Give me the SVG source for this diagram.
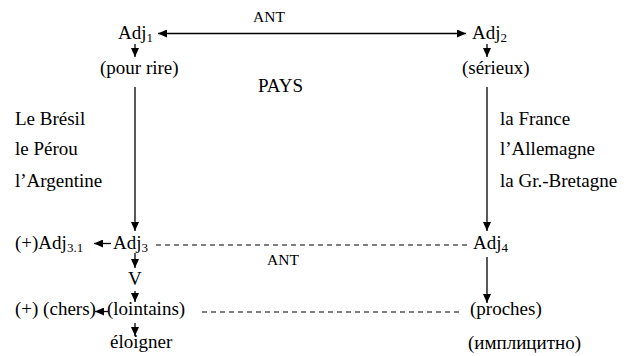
<svg xmlns="http://www.w3.org/2000/svg" width="628" height="356" viewBox="0 0 628 356">
<defs>
<marker id="ah" markerUnits="userSpaceOnUse" markerWidth="9" markerHeight="8" refX="9" refY="4" orient="auto-start-reverse">
<path d="M0,0 L9,4 L0,8 z" fill="#000"/>
</marker>
</defs>
<rect width="628" height="356" fill="#fff"/>
<g id="connectors" stroke="#000" stroke-width="1.3" fill="none">
<line x1="158" y1="33.5" x2="466" y2="33.5" marker-start="url(#ah)" marker-end="url(#ah)"/>
<line x1="135" y1="44" x2="135" y2="57" marker-end="url(#ah)"/>
<line x1="487" y1="44" x2="487" y2="57" marker-end="url(#ah)"/>
<line x1="135" y1="87" x2="135" y2="231" marker-end="url(#ah)"/>
<line x1="487" y1="87" x2="487" y2="231" marker-end="url(#ah)"/>
<line x1="111" y1="243.5" x2="94" y2="243.5" marker-end="url(#ah)"/>
<line x1="156" y1="245" x2="468" y2="245" stroke-width="1.1" stroke-dasharray="5,4"/>
<line x1="135" y1="253" x2="135" y2="268" marker-end="url(#ah)"/>
<line x1="135" y1="291" x2="135" y2="302" marker-end="url(#ah)"/>
<line x1="108" y1="311.5" x2="95" y2="311.5" marker-end="url(#ah)"/>
<line x1="202" y1="312" x2="460" y2="312" stroke-width="1.1" stroke-dasharray="5,4"/>
<line x1="487" y1="257" x2="487" y2="303" marker-end="url(#ah)"/>
<line x1="135" y1="323" x2="135" y2="336" marker-end="url(#ah)"/>
</g>
<g id="ant-top"><text font-family="Liberation Serif" font-size="15.5" x="253" y="22">ANT</text></g>
<g id="adj1"><text font-family="Liberation Serif" font-size="19" x="118" y="39">Adj<tspan font-size="13" dy="3">1</tspan></text></g>
<g id="adj2"><text font-family="Liberation Serif" font-size="19" x="472" y="39">Adj<tspan font-size="13" dy="3">2</tspan></text></g>
<g id="pour-rire"><text font-family="Liberation Serif" font-size="19" x="100" y="74">(pour rire)</text></g>
<g id="serieux"><text font-family="Liberation Serif" font-size="19" x="462" y="74">(sérieux)</text></g>
<g id="pays"><text font-family="Liberation Serif" font-size="19" x="258" y="92">PAYS</text></g>
<g id="left-list">
<text font-family="Liberation Serif" font-size="19" x="15" y="125">Le Brésil</text>
<text font-family="Liberation Serif" font-size="19" x="15" y="155">le Pérou</text>
<text font-family="Liberation Serif" font-size="19" x="15" y="187">l’Argentine</text>
</g>
<g id="right-list">
<text font-family="Liberation Serif" font-size="19" x="500" y="125">la France</text>
<text font-family="Liberation Serif" font-size="19" x="500" y="155">l’Allemagne</text>
<text font-family="Liberation Serif" font-size="19" x="500" y="187">la Gr.-Bretagne</text>
</g>
<g id="adj31"><text font-family="Liberation Serif" font-size="19" x="15" y="249">(+)Adj<tspan font-size="13" dy="3">3.1</tspan></text></g>
<g id="adj3"><text font-family="Liberation Serif" font-size="19" x="113" y="249">Adj<tspan font-size="13" dy="3">3</tspan></text></g>
<g id="adj4"><text font-family="Liberation Serif" font-size="19" x="473" y="249">Adj<tspan font-size="13" dy="3">4</tspan></text></g>
<g id="ant-mid"><text font-family="Liberation Serif" font-size="15.5" x="267" y="265">ANT</text></g>
<g id="v"><text font-family="Liberation Serif" font-size="19" x="128" y="285">V</text></g>
<g id="chers"><text font-family="Liberation Serif" font-size="19" x="15" y="315">(+) (chers)</text></g>
<g id="lointains"><text font-family="Liberation Serif" font-size="19" x="107" y="315">(lointains)</text></g>
<g id="proches"><text font-family="Liberation Serif" font-size="19" x="470" y="315">(proches)</text></g>
<g id="eloigner"><text font-family="Liberation Serif" font-size="19" x="110" y="348">éloigner</text></g>
<g id="implicitno"><text font-family="Liberation Serif" font-size="19" x="468" y="349">(имплицитно)</text></g>
</svg>
